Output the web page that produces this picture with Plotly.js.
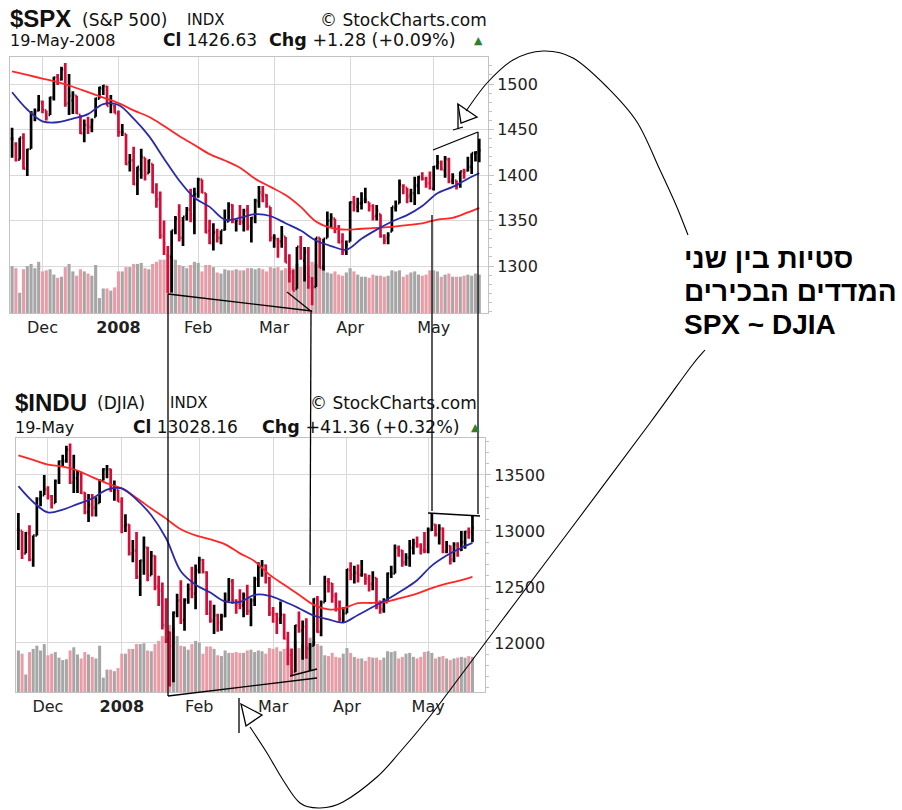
<!DOCTYPE html>
<html>
<head>
<meta charset="utf-8">
<script src="https://cdn.plot.ly/plotly-3.0.1.min.js"></script>
<style>
  body { margin: 0; background: #fff; }
  #chart { width: 902px; height: 810px; }
</style>
</head>
<body>
<div id="chart"></div>
<script>
// trading days on the chart, per month
var novDays = [20,21,23,26,27,28,29,30];
var decDays = [3,4,5,6,7,10,11,12,13,14,17,18,19,20,21,24,26,27,28,31];
var janDays = [2,3,4,7,8,9,10,11,14,15,16,17,18,22,23,24,25,28,29,30,31];
var febDays = [1,4,5,6,7,8,11,12,13,14,15,19,20,21,22,25,26,27,28,29];
var marDays = [3,4,5,6,7,10,11,12,13,14,17,18,19,20,24,25,26,27,28,31];
var aprDays = [1,2,3,4,7,8,9,10,11,14,15,16,17,18,21,22,23,24,25,28,29,30];
var mayDays = [1,2,5,6,7,8,9,12,13,14,15,16,19];

var monthTicks = ['2007-12-03','2008-01-02','2008-02-01','2008-03-03','2008-04-01','2008-05-01'];
var monthLabels = ['Dec','<b>2008</b>','Feb','Mar','Apr','May'];

// $SPX daily bars
var spxOpen = [1440,1434,1417,1441,1407,1429,1467,1471,1479,1471,
  1466,1485,1508,1505,1516,1479,1482,1487,1466,1446,
  1455,1453,1464,1484,1495,1497,1479,1476,1467,1447,
  1445,1414,1416,1390,1406,1419,1402,1412,1377,1374,
  1334,1312,1310,1340,1357,1331,1356,1362,1352,1379,
  1395,1380,1339,1324,1337,1331,1340,1349,1367,1348,
  1355,1348,1362,1344,1353,1371,1378,1378,1365,1331,
  1329,1327,1332,1301,1294,1275,1321,1306,1317,1283,
  1277,1331,1299,1331,1350,1352,1341,1327,1316,1327,
  1370,1365,1369,1373,1370,1366,1355,1357,1333,1331,
  1338,1364,1369,1388,1386,1378,1380,1388,1397,1396,
  1391,1385,1410,1413,1405,1417,1394,1394,1389,1404,
  1405,1409,1424,1425];
var spxHigh = [1452,1436,1441,1446,1429,1470,1473,1488,1482,1471,
  1486,1508,1511,1519,1523,1511,1492,1487,1466,1461,
  1464,1462,1485,1497,1499,1498,1488,1477,1471,1456,
  1445,1423,1431,1409,1429,1419,1417,1412,1391,1382,
  1350,1322,1339,1355,1368,1354,1365,1385,1386,1397,
  1395,1380,1351,1347,1341,1339,1362,1370,1368,1351,
  1367,1363,1367,1354,1374,1388,1388,1379,1365,1335,
  1331,1344,1332,1313,1296,1321,1333,1321,1321,1288,
  1331,1331,1330,1360,1358,1352,1345,1336,1328,1371,
  1377,1375,1381,1386,1370,1368,1367,1357,1335,1337,
  1365,1372,1395,1390,1386,1385,1398,1399,1403,1398,
  1404,1410,1422,1416,1421,1419,1402,1394,1404,1407,
  1420,1424,1426,1440];
var spxLow = [1419,1415,1417,1406,1399,1429,1459,1470,1468,1460,
  1466,1482,1499,1504,1475,1466,1467,1467,1445,1436,
  1445,1447,1464,1484,1488,1476,1468,1468,1442,1443,
  1411,1404,1389,1378,1396,1394,1402,1380,1364,1330,
  1312,1270,1271,1335,1327,1322,1350,1348,1335,1375,
  1380,1336,1324,1317,1326,1324,1339,1349,1347,1338,
  1345,1338,1339,1326,1347,1364,1370,1364,1327,1320,
  1309,1320,1304,1282,1273,1275,1307,1283,1275,1257,
  1277,1298,1295,1331,1342,1336,1325,1312,1312,1327,
  1360,1359,1362,1369,1360,1350,1350,1331,1324,1324,
  1338,1360,1369,1379,1369,1370,1367,1379,1394,1386,
  1384,1383,1406,1405,1397,1391,1390,1384,1386,1396,
  1404,1401,1415,1414];
var spxClose = [1440,1417,1441,1407,1428,1469,1470,1481,1472,1463,
  1485,1507,1505,1516,1478,1487,1488,1468,1446,1455,
  1453,1460,1484,1496,1498,1476,1478,1468,1447,1447,
  1412,1416,1390,1409,1420,1401,1416,1381,1373,1333,
  1325,1311,1339,1352,1331,1354,1362,1356,1379,1395,
  1381,1337,1326,1337,1331,1339,1349,1367,1349,1350,
  1349,1360,1343,1353,1372,1381,1380,1368,1331,1331,
  1327,1334,1304,1293,1273,1321,1309,1315,1288,1277,
  1331,1298,1330,1350,1353,1341,1326,1315,1323,1370,
  1368,1369,1370,1373,1366,1354,1361,1333,1328,1334,
  1365,1366,1390,1388,1376,1380,1389,1398,1396,1391,
  1386,1409,1414,1407,1418,1393,1398,1388,1404,1403,
  1409,1424,1425,1427];
var spxVol = [4.4,4.2,1.9,4.1,4.4,4.6,4.2,4.8,
  3.9,4.0,4.1,3.6,3.3,3.4,4.3,4.6,3.9,3.5,4.1,3.9,3.7,3.5,4.5,1.4,2.3,2.3,2.1,2.4,
  3.9,3.9,4.3,4.3,4.6,4.6,4.7,4.2,4.1,4.6,4.8,5.0,5.0,5.4,5.3,5.0,4.5,4.4,4.2,4.5,4.8,
  4.7,3.9,4.5,4.5,4.3,3.8,3.7,4.1,4.0,4.0,4.1,4.0,4.0,4.2,4.2,4.1,4.2,4.1,3.9,4.3,
  4.2,4.3,4.0,4.2,4.3,4.2,4.6,4.3,4.5,4.4,4.8,4.6,4.4,4.3,3.8,3.7,3.9,3.6,3.5,3.8,
  4.2,3.9,3.6,3.4,3.4,3.3,3.6,3.5,3.5,3.4,3.5,4.0,3.9,4.0,3.4,3.6,3.8,3.9,3.6,3.5,3.6,4.0,
  4.0,3.9,3.4,3.6,3.7,3.4,3.4,3.4,3.5,3.6,3.5,3.7,3.6];

// $INDU daily bars
var djOpen = [13012,13000,12800,12980,12745,12960,13285,13320,13370,13310,
  13250,13445,13620,13625,13727,13435,13470,13515,13340,13170,
  13230,13210,13250,13450,13550,13550,13360,13365,13262,13044,
  13055,12800,12825,12590,12730,12850,12605,12775,12500,12465,
  12160,12095,11970,12270,12380,12205,12385,12480,12440,12650,
  12740,12630,12265,12200,12245,12180,12240,12375,12550,12375,
  12350,12335,12425,12285,12380,12570,12680,12690,12580,12265,
  12255,12210,12250,12035,11890,11745,12155,12110,12145,11950,
  11975,12390,12100,12365,12550,12530,12420,12300,12215,12265,
  12650,12605,12625,12610,12610,12575,12525,12580,12325,12300,
  12365,12620,12620,12845,12825,12720,12760,12850,12890,12870,
  12830,12820,13010,13055,12970,13020,12815,12865,12745,12875,
  12830,12900,12990,12990];
var djHigh = [13160,13000,12990,13050,12960,13300,13360,13500,13400,13320,
  13460,13630,13680,13760,13780,13680,13540,13520,13345,13330,
  13330,13300,13460,13560,13590,13555,13450,13370,13300,13150,
  13060,12920,12990,12740,12950,12860,12820,12780,12600,12540,
  12400,12100,12280,12440,12560,12400,12530,12680,12700,12770,
  12750,12640,12380,12340,12260,12260,12450,12580,12570,12390,
  12480,12450,12520,12400,12590,12720,12740,12700,12590,12320,
  12270,12370,12260,12100,11950,12160,12280,12200,12220,12000,
  12400,12420,12380,12600,12580,12535,12450,12380,12320,12660,
  12720,12690,12700,12740,12620,12610,12640,12580,12380,12400,
  12630,12690,12880,12870,12830,12800,12920,12930,12950,12890,
  12990,13030,13160,13060,13060,13030,12910,12870,12900,12900,
  13000,13000,13030,13140];
var djLow = [12830,12750,12800,12730,12680,12960,13220,13320,13280,13200,
  13250,13420,13580,13610,13420,13340,13340,13330,13150,13080,
  13130,13130,13250,13450,13470,13350,13270,13260,12980,12990,
  12780,12720,12570,12420,12610,12550,12605,12470,12330,12120,
  12000,11610,11650,12230,12170,12110,12350,12400,12300,12620,
  12620,12250,12180,12080,12100,12110,12230,12370,12350,12260,
  12300,12230,12250,12150,12330,12500,12590,12530,12240,12180,
  12080,12170,12030,11800,11700,11740,12090,11850,11860,11750,
  11975,12090,12060,12365,12450,12360,12280,12190,12180,12265,
  12560,12530,12540,12590,12520,12460,12470,12300,12260,12270,
  12365,12580,12620,12770,12680,12690,12680,12790,12850,12790,
  12800,12800,13000,12950,12880,12800,12800,12700,12720,12770,
  12820,12840,12930,12900];
var djClose = [13010,12799,12981,12743,12958,13289,13311,13372,13315,13249,
  13445,13620,13625,13727,13432,13473,13518,13340,13167,13232,
  13207,13245,13450,13550,13552,13359,13366,13265,13044,13057,
  12800,12827,12589,12736,12853,12606,12778,12501,12466,12159,
  12099,11971,12271,12378,12207,12384,12480,12443,12650,12743,
  12635,12265,12200,12248,12182,12240,12373,12552,12376,12348,
  12338,12427,12284,12381,12570,12684,12694,12582,12266,12258,
  12213,12254,12040,11894,11740,12156,12111,12146,11951,11972,
  12392,12099,12361,12549,12533,12422,12302,12216,12263,12654,
  12608,12627,12610,12612,12577,12527,12582,12326,12302,12363,
  12620,12620,12849,12825,12720,12763,12849,12892,12872,12832,
  12820,13010,13059,12970,13021,12815,12867,12746,12877,12832,
  12898,12993,12987,13028];
var djVol = [260,240,110,250,270,290,260,300,
  230,240,250,215,200,205,260,280,235,210,250,235,220,210,290,90,140,140,130,150,
  240,240,270,270,300,300,305,260,255,300,320,350,340,420,400,350,290,285,265,300,320,
  310,240,285,285,270,230,225,260,245,245,250,245,245,260,265,250,260,255,240,275,
  270,280,255,270,280,270,320,275,300,290,340,320,300,290,230,225,245,220,215,240,
  275,245,220,210,210,195,220,215,215,200,215,255,250,255,210,220,240,245,220,210,220,250,
  255,245,210,220,225,210,200,210,215,220,215,225,220];

// moving averages, every 4th bar
var maIdx = [0,4,8,12,16,20,24,28,32,36,40,44,48,52,56,60,64,68,72,76,80,84,88,92,96,100,104,108,112,116,120,123];
var spxMA50 = [1514,1510,1506,1502,1497,1491,1485,1479,1471,1464,1454,1443,1433,1423,1416,1408,1396,1387,1378,1365,1349,1342,1340,1341,1342,1343,1345,1347,1351,1353,1359,1364];
var spxMA20 = [1491,1472,1459,1458,1462,1467,1478,1477,1462,1443,1418,1394,1375,1365,1351,1353,1357,1355,1347,1339,1328,1322,1318,1330,1340,1349,1356,1366,1380,1387,1396,1402];
var djMA50 = [13675,13634,13592,13575,13540,13480,13425,13380,13295,13200,13110,13015,12960,12925,12880,12800,12730,12610,12520,12430,12340,12300,12310,12355,12357,12370,12405,12440,12490,12530,12560,12589];
var djMA20 = [13400,13259,13165,13190,13240,13290,13370,13380,13280,13140,12935,12640,12520,12450,12370,12366,12430,12420,12370,12310,12245,12210,12182,12250,12321,12390,12470,12560,12690,12780,12850,12893];

var spxTicks = [1300,1350,1400,1450,1500];
var djTicks = [12000,12500,13000,13500];

var dates = [];
[['2007-11', novDays], ['2007-12', decDays], ['2008-01', janDays], ['2008-02', febDays],
 ['2008-03', marDays], ['2008-04', aprDays], ['2008-05', mayDays]].forEach(function (m) {
  m[1].forEach(function (d) { dates.push(m[0] + '-' + (d < 10 ? '0' + d : d)); });
});

var W = 902, H = 810;
function px(x) { return x / W; }
function py(y) { return 1 - y / H; }

var RED = '#d40d37', GRAY_VOL = '#a6a6a6', PINK_VOL = '#e99ba6';

// stockcharts colours a bar by close vs previous close
function priceTraces(open, high, low, close, ya) {
  var sets = [[], []];
  close.forEach(function (c, i) { sets[i > 0 && c < close[i - 1] ? 1 : 0].push(i); });
  return sets.map(function (idx, k) {
    var col = k ? RED : '#000';
    return {
      type: 'ohlc', xaxis: ya.x, yaxis: ya.y,
      x: idx.map(function (i) { return dates[i]; }),
      open: idx.map(function (i) { return open[i]; }),
      high: idx.map(function (i) { return high[i]; }),
      low: idx.map(function (i) { return low[i]; }),
      close: idx.map(function (i) { return close[i]; }),
      increasing: { line: { color: col, width: 2.7 } },
      decreasing: { line: { color: col, width: 2.7 } },
      tickwidth: 0.4, hoverinfo: 'skip'
    };
  });
}
function volTrace(vol, close, xa, ya) {
  return {
    type: 'bar', xaxis: xa, yaxis: ya, x: dates, y: vol, hoverinfo: 'skip',
    marker: { color: close.map(function (c, i) { return i > 0 && c < close[i - 1] ? PINK_VOL : GRAY_VOL; }), line: { width: 0 } }
  };
}
function maTrace(vals, color, xa, ya) {
  return {
    type: 'scatter', mode: 'lines', xaxis: xa, yaxis: ya, hoverinfo: 'skip',
    x: maIdx.map(function (i) { return dates[i]; }), y: vals,
    line: { color: color, width: 1.8, shape: 'spline' }
  };
}

var data = [volTrace(spxVol, spxClose, 'x', 'y'), volTrace(djVol, djClose, 'x2', 'y2')]
  .concat(priceTraces(spxOpen, spxHigh, spxLow, spxClose, { x: 'x', y: 'y3' }))
  .concat(priceTraces(djOpen, djHigh, djLow, djClose, { x: 'x2', y: 'y4' }))
  .concat([maTrace(spxMA50, '#ff2626', 'x', 'y3'), maTrace(spxMA20, '#2a2aa8', 'x', 'y3'),
           maTrace(djMA50, '#ff2626', 'x2', 'y4'), maTrace(djMA20, '#2a2aa8', 'x2', 'y4')]);

var GRID = '#d9d9d9', EDGE = '#c2c2c2';
function xAxis(dom, rng, anchor) {
  return {
    domain: dom, anchor: anchor, type: 'category', categoryorder: 'array', categoryarray: dates,
    range: rng, tickvals: monthTicks, ticktext: monthLabels, ticks: '',
    showgrid: true, gridcolor: GRID, showline: true, mirror: true, linecolor: EDGE,
    tickfont: { family: 'DejaVu Sans', size: 16, color: '#222' },
    rangeslider: { visible: false }, fixedrange: true
  };
}
function priceAxis(over, anchor, rng, ticks, minorStep) {
  return {
    overlaying: over, anchor: anchor, side: 'right', range: rng, tickvals: ticks, tickformat: 'd',
    showgrid: true, gridcolor: GRID, zeroline: false, showline: true, mirror: true, linecolor: EDGE,
    ticks: 'outside', ticklen: 5, tickcolor: EDGE,
    minor: { dtick: minorStep, tick0: ticks[0], ticks: 'outside', ticklen: 3, tickcolor: EDGE, showgrid: false },
    tickfont: { family: 'DejaVu Sans', size: 16, color: '#222' }, fixedrange: true
  };
}

function note(text, x, y, size, extra) {
  var a = {
    text: text, x: px(x), y: py(y), xref: 'paper', yref: 'paper', xanchor: 'left', yanchor: 'middle',
    showarrow: false, borderpad: 0, font: { family: 'DejaVu Sans', size: size, color: '#111' }
  };
  for (var k in extra) a[k] = extra[k];
  return a;
}
var boldHead = { font: { family: 'Liberation Sans', size: 24, color: '#111' }, height: 26 };
var heb = { font: { family: 'Liberation Sans', size: 28, color: '#000' } };
var annotations = [
  note('<b>$SPX</b>', 9, 18, 24, boldHead),
  note('(S&P 500)', 81, 20, 17),
  note('INDX', 186, 20, 15),
  note('© StockCharts.com', 488, 20, 17, { xanchor: 'right' }),
  note('19-May-2008', 9, 40, 16),
  note('<b>Cl</b> 1426.63', 162, 40, 17),
  note('<b>Chg</b> +1.28 (+0.09%)', 268, 40, 17.5),
  note('▲', 479, 40, 11, { xanchor: 'center', font: { size: 11, color: '#2f7f2f' } }),

  note('<b>$INDU</b>', 14, 402, 24, boldHead),
  note('(DJIA)', 96, 403, 17),
  note('INDX', 169, 403, 15),
  note('© StockCharts.com', 478, 403, 17, { xanchor: 'right' }),
  note('19-May', 14, 427, 16),
  note('<b>Cl</b> 13028.16', 132, 427, 17),
  note('<b>Chg</b> +41.36 (+0.32%)', 261, 427, 17.5),
  note('▲', 475, 427, 11, { xanchor: 'center', font: { size: 11, color: '#2f7f2f' } }),

  note('<b>סטיות בין שני</b>', 683, 258, 28, heb),
  note('<b>המדדים הבכירים</b>', 683, 291, 28, heb),
  note('<b>SPX ~ DJIA</b>', 683, 324, 28, heb)
];

// hand-drawn markup, in page pixels
function P(p) { return px(p[0]).toFixed(5) + ',' + py(p[1]).toFixed(5); }
function seg(a, b) {
  return { type: 'line', xref: 'paper', yref: 'paper', x0: px(a[0]), y0: py(a[1]), x1: px(b[0]), y1: py(b[1]),
           line: { color: '#000', width: 1.3 } };
}
function curve(pts) {
  var d = 'M' + P(pts[0]);
  for (var i = 0; i < pts.length - 1; i++) {
    var p0 = pts[i - 1] || pts[i], p1 = pts[i], p2 = pts[i + 1], p3 = pts[i + 2] || p2;
    var c1 = [p1[0] + (p2[0] - p0[0]) / 6, p1[1] + (p2[1] - p0[1]) / 6];
    var c2 = [p2[0] - (p3[0] - p1[0]) / 6, p2[1] - (p3[1] - p1[1]) / 6];
    d += ' C' + P(c1) + ' ' + P(c2) + ' ' + P(p2);
  }
  return { type: 'path', xref: 'paper', yref: 'paper', path: d, line: { color: '#000', width: 1.1 } };
}
function poly(pts, closed) {
  var d = pts.map(function (p, i) { return (i ? 'L' : 'M') + P(p); }).join(' ') + (closed ? ' Z' : '');
  return { type: 'path', xref: 'paper', yref: 'paper', path: d, line: { color: '#000', width: 1.3 } };
}

var shapes = [
  seg([168, 294], [312, 311]), seg([287, 292], [312, 312]),
  seg([168, 294], [168, 696]),
  seg([168, 696], [317, 678]), seg([290, 676], [317, 669]),
  seg([311, 312], [310, 585]),
  seg([432, 215], [432, 511]),
  seg([478, 132], [478, 514]),
  seg([433, 150], [478, 132]),
  seg([428, 513], [480, 516]),
  curve([[466, 111], [487, 83], [513, 60], [543, 51], [573, 58], [607, 87], [637, 122], [660, 170], [676, 205], [688, 235]]),
  curve([[705, 350], [690, 368], [650, 423], [570, 530], [500, 623], [450, 690], [427, 720], [400, 752], [377, 777], [343, 802], [320, 808], [300, 803], [283, 780], [267, 753], [250, 727]]),
  poly([[458, 104], [477, 117], [461, 123]], true), seg([458, 104], [458, 129]), seg([453, 130], [463, 127]),
  poly([[241, 704], [262, 715], [246, 726]], true), seg([239, 698], [239, 733])
];

var layout = {
  width: W, height: H, margin: { l: 0, r: 0, t: 0, b: 0 },
  paper_bgcolor: '#fff', plot_bgcolor: '#fff', showlegend: false, bargap: 0.18,
  font: { family: 'DejaVu Sans', size: 16, color: '#111' },
  xaxis: xAxis([px(10), px(488)], [-0.55, 125.3], 'y'),
  yaxis: { domain: [py(313), py(57)], range: [0, 24], visible: false, fixedrange: true },
  yaxis3: priceAxis('y', 'x', [1248.4, 1529.7], spxTicks, 10),
  xaxis2: xAxis([px(16), px(485)], [-0.65, 126.4], 'y2'),
  yaxis2: { domain: [py(692), py(438)], range: [0, 1590], visible: false, fixedrange: true },
  yaxis4: priceAxis('y2', 'x2', [11562, 13830], djTicks, 100),
  annotations: annotations,
  shapes: shapes
};

Plotly.newPlot('chart', data, layout, { displayModeBar: false, staticPlot: true });
</script>
</body>
</html>
